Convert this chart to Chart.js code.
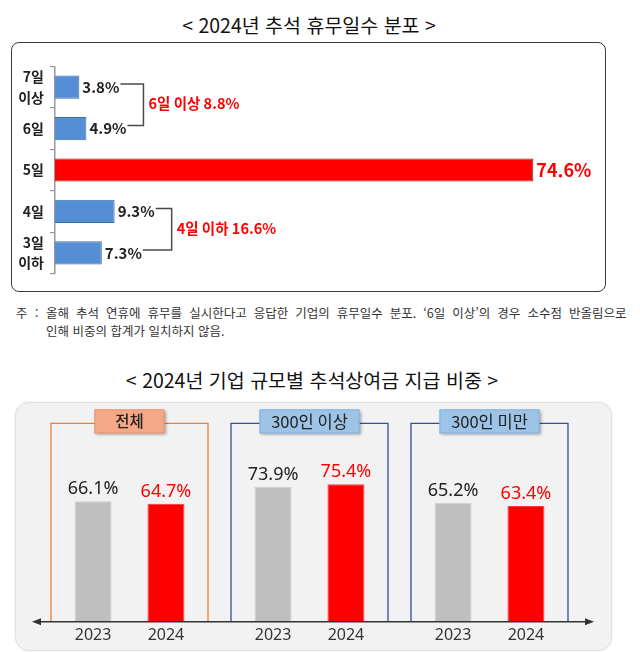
<!DOCTYPE html>
<html lang="ko">
<head>
<meta charset="utf-8">
<script src="https://cdn.jsdelivr.net/npm/chart.js@4.4.1/dist/chart.umd.min.js"></script>
<style>
  html, body { margin: 0; padding: 0; background: #fff; }
  body { width: 640px; height: 652px; position: relative; overflow: hidden;
         font-family: 'Noto Sans CJK KR', 'Noto Sans', sans-serif; color: #222; }
  .title { position: absolute; left: 0; width: 618px; text-align: center;
           font-size: 19.5px; line-height: 26px; color: #111; }
  #box1 { position: absolute; left: 11px; top: 42px; width: 595px; height: 250px;
          box-sizing: border-box; border: 1.6px solid #3a3a3a; border-radius: 8px; }
  #box2 { position: absolute; left: 15px; top: 402px; width: 597px; height: 249px;
          box-sizing: border-box; background: #f2f2f2; border: 1px solid #e2e2e2;
          border-radius: 14px; box-shadow: 0 0 2px rgba(0,0,0,0.12); }
  canvas { position: absolute; left: 0; }
  #c1 { top: 40px; }
  #c2 { top: 395px; }
  .note { position: absolute; font-size: 12.5px; line-height: 18px; color: #333; white-space: nowrap; }
</style>
</head>
<body>
<div class="title" style="top:12px;">&lt; 2024년 추석 휴무일수 분포 &gt;</div>
<div id="box1"></div>
<canvas id="c1" width="640" height="260"></canvas>

<div class="note" style="left:16px; top:304px;">주</div>
<div class="note" style="left:35px; top:304px;">:</div>
<div class="note" id="fn1" style="left:46px; top:304px;">올해 추석 연휴에 휴무를 실시한다고 응답한 기업의 휴무일수 분포. ‘6일 이상’의 경우 소수점 반올림으로</div>
<div class="note" style="left:46px; top:322px;">인해 비중의 합계가 일치하지 않음.</div>

<div class="title" style="top:367px; width:624px;">&lt; 2024년 기업 규모별 추석상여금 지급 비중 &gt;</div>
<div id="box2"></div>
<canvas id="c2" width="640" height="257"></canvas>

<script>
// ---- 위: 추석 휴무일수 분포 ----
const dayLabels = [['7일', '이상'], '6일', '5일', '4일', ['3일', '이하']];
const dayShares = [3.8, 4.9, 74.6, 9.3, 7.3];
const groupRows = [[0, 1], [3, 4]];
const groupTexts = ['6일 이상 8.8%', '4일 이하 16.6%'];

// ---- 아래: 기업 규모별 추석상여금 지급 비중 ----
const sizeGroups = ['전체', '300인 이상', '300인 미만'];
const years = ['2023', '2024'];
const bonus2023 = [66.1, 73.9, 65.2];
const bonus2024 = [64.7, 75.4, 63.4];

const KR = "'Noto Sans CJK KR', sans-serif";
const NUM = "'Noto Sans', 'Noto Sans CJK KR', sans-serif";

// 각주 첫 줄 양쪽 정렬 (단어 간격으로 580px 폭 맞춤)
(function () {
  const fn = document.getElementById('fn1');
  const spaces = fn.textContent.split(' ').length - 1;
  const extra = (580 - fn.offsetWidth) / spaces;
  fn.style.wordSpacing = extra.toFixed(2) + 'px';
})();

const dayLabelPlugin = {
  id: 'dayLabels',
  afterDatasetsDraw(chart) {
    const ctx = chart.ctx;
    const bars = chart.getDatasetMeta(0).data;
    const ends = [];
    ctx.save();
    ctx.textBaseline = 'middle';
    ctx.textAlign = 'left';
    bars.forEach((el, i) => {
      const big = i === 2;
      ctx.font = (big ? 'bold 18px ' : 'bold 15px ') + KR;
      ctx.fillStyle = big ? '#ff0000' : '#222';
      const txt = dayShares[i].toFixed(1) + '%';
      ctx.fillText(txt, el.x + 3, el.y);
      ends[i] = el.x + 3 + ctx.measureText(txt).width;
    });
    // 묶음 괄호
    ctx.strokeStyle = '#4a4a4a';
    ctx.lineWidth = 1.5;
    groupRows.forEach((rows, g) => {
      const [a, b] = rows;
      const ya = bars[a].y - 3, yb = bars[b].y - 3;
      const bx = Math.max(ends[a], ends[b]) + 17;
      ctx.beginPath();
      ctx.moveTo(ends[a] + 1, ya);
      ctx.lineTo(bx, ya);
      ctx.lineTo(bx, yb);
      ctx.lineTo(ends[b] + 1, yb);
      ctx.stroke();
      ctx.font = 'bold 14.5px ' + KR;
      ctx.fillStyle = '#ff0000';
      ctx.fillText(groupTexts[g], bx + 5, (ya + yb) / 2 - 1);
    });
    ctx.restore();
  }
};

new Chart(document.getElementById('c1'), {
  type: 'bar',
  data: {
    labels: dayLabels,
    datasets: [{
      data: dayShares,
      backgroundColor: dayShares.map((v, i) => i === 2 ? '#ff0000' : '#558ed5'),
      borderColor: dayShares.map((v, i) => i === 2 ? '#9b2020' : '#3c6ea8'),
      borderWidth: 1,
      borderSkipped: 'start',
      barPercentage: 0.56,
      categoryPercentage: 1
    }]
  },
  options: {
    indexAxis: 'y',
    responsive: false,
    animation: false,
    layout: { padding: { top: 10.7, bottom: 13.3, left: 0, right: 40 } },
    plugins: { legend: { display: false }, tooltip: { enabled: false } },
    scales: {
      x: { display: false, min: 0, max: 85 },
      y: {
        afterFit(scale) { scale.width = 55; },
        grid: { drawOnChartArea: false, drawTicks: true, tickLength: 5, color: '#999', lineWidth: 1.2 },
        border: { display: true, color: '#999', width: 1.5 },
        ticks: { color: '#222', padding: 6, font: { family: KR, size: 14, weight: 'bold', lineHeight: 1.45 } }
      }
    }
  },
  plugins: [dayLabelPlugin]
});

const panelColors = ['#ed7d31', '#34508f', '#34508f'];
const headFill = ['#f4a886', '#9dc3e6', '#9dc3e6'];
const headEdge = ['#e39672', '#86b1dc', '#86b1dc'];
const headWidth = [70, 100, 100];

const bonusPlugin = {
  id: 'bonusPanels',
  beforeDatasetsDraw(chart) {
    const { ctx, chartArea, scales: { x, y } } = chart;
    const axisY = y.getPixelForValue(0);
    const top = chartArea.top - 16;
    ctx.save();
    sizeGroups.forEach((name, i) => {
      const cx = x.getPixelForValue(i);
      ctx.strokeStyle = panelColors[i];
      ctx.lineWidth = 1.3;
      ctx.beginPath();
      ctx.moveTo(cx - 78.5, axisY);
      ctx.lineTo(cx - 78.5, top);
      ctx.lineTo(cx + 78.5, top);
      ctx.lineTo(cx + 78.5, axisY);
      ctx.stroke();
    });
    ctx.restore();
  },
  afterDatasetsDraw(chart) {
    const { ctx, chartArea, scales: { x, y } } = chart;
    const axisY = y.getPixelForValue(0);
    const top = chartArea.top - 16;
    ctx.save();
    // 헤더 상자
    sizeGroups.forEach((name, i) => {
      const cx = x.getPixelForValue(i);
      const w = headWidth[i], h = 24;
      ctx.save();
      ctx.shadowColor = 'rgba(0,0,0,0.35)';
      ctx.shadowBlur = 3;
      ctx.shadowOffsetX = 1.5;
      ctx.shadowOffsetY = 1.5;
      ctx.fillStyle = headFill[i];
      ctx.fillRect(cx - w / 2, top - 14, w, h);
      ctx.restore();
      ctx.strokeStyle = headEdge[i];
      ctx.lineWidth = 1;
      ctx.strokeRect(cx - w / 2 + 0.5, top - 13.5, w - 1, h - 1);
      ctx.fillStyle = '#222';
      ctx.font = (i === 0 ? '500 15.5px ' : '16.5px ') + KR;
      ctx.textAlign = 'center';
      ctx.textBaseline = 'middle';
      ctx.fillText(name, cx, top - 2);
    });
    // 값 라벨, 연도
    ctx.textAlign = 'center';
    ctx.textBaseline = 'middle';
    chart.data.datasets.forEach((ds, d) => {
      chart.getDatasetMeta(d).data.forEach((el, i) => {
        ctx.font = '18px ' + NUM;
        ctx.fillStyle = d === 0 ? '#222' : '#ff0000';
        ctx.fillText(ds.data[i].toFixed(1) + '%', el.x, el.y - 12);
        ctx.font = '16px ' + NUM;
        ctx.fillStyle = '#333';
        ctx.fillText(ds.label, el.x, axisY + 14);
      });
    });
    // 양방향 화살표 축
    const x0 = 32, x1 = 594;
    ctx.strokeStyle = '#333';
    ctx.fillStyle = '#333';
    ctx.lineWidth = 1.5;
    ctx.beginPath();
    ctx.moveTo(x0 + 4, axisY);
    ctx.lineTo(x1 - 4, axisY);
    ctx.stroke();
    [[x0, 1], [x1, -1]].forEach(([px, dir]) => {
      ctx.beginPath();
      ctx.moveTo(px, axisY);
      ctx.lineTo(px + dir * 9, axisY - 3.5);
      ctx.lineTo(px + dir * 9, axisY + 3.5);
      ctx.closePath();
      ctx.fill();
    });
    ctx.restore();
  }
};

new Chart(document.getElementById('c2'), {
  type: 'bar',
  data: {
    labels: sizeGroups,
    datasets: [
      { label: years[0], data: bonus2023, backgroundColor: '#bfbfbf', borderColor: '#d0d0d0', borderWidth: 1 },
      { label: years[1], data: bonus2024, backgroundColor: '#ff0000', borderColor: '#ff3b3b', borderWidth: 1 }
    ]
  },
  options: {
    responsive: false,
    animation: false,
    datasets: { bar: { categoryPercentage: 0.81, barPercentage: 0.507 } },
    layout: { padding: { top: 44.4, bottom: 30.3, left: 39.5, right: 60.5 } },
    plugins: { legend: { display: false }, tooltip: { enabled: false } },
    scales: {
      x: { display: false },
      y: { display: false, min: 0, max: 100 }
    }
  },
  plugins: [bonusPlugin]
});
</script>
</body>
</html>
